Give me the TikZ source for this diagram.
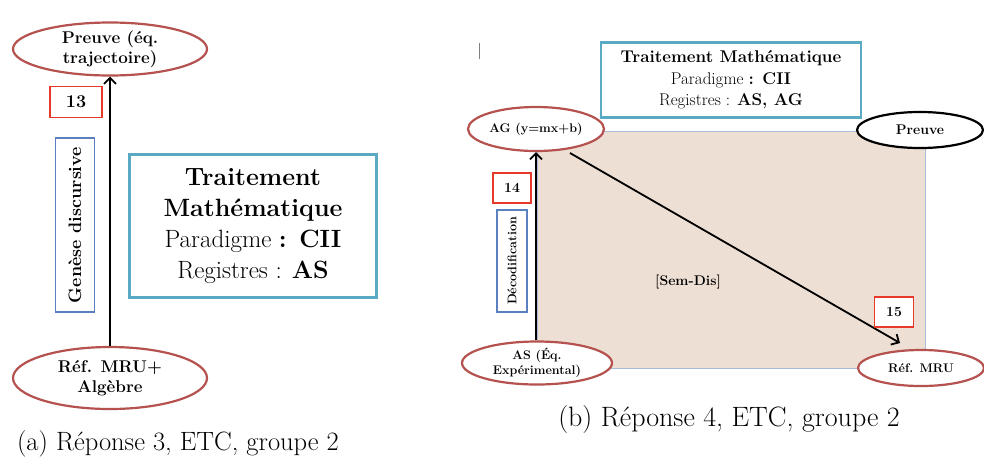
\documentclass[tikz,border=0pt]{standalone}
\usepackage{fontspec}
\usetikzlibrary{shapes.geometric,positioning,arrows.meta}
\definecolor{ellred}{HTML}{B5524F}
\definecolor{boxred}{HTML}{E8392B}
\definecolor{boxblue}{HTML}{5A80C0}
\definecolor{boxteal}{HTML}{5AAAC4}
\definecolor{zonefill}{HTML}{EEDFD4}
\definecolor{zoneedge}{HTML}{A9BCD8}
\newcommand{\fs}[2]{\fontsize{#1}{#2}\selectfont}
\tikzset{
  etat/.style={ellipse, draw=ellred, line width=2.2pt, fill=white, align=center, inner sep=0pt},
  numbox/.style={draw=boxred, line width=1.8pt, fill=white, inner sep=0pt, font=\bfseries\fs{18}{21}},
  genbox/.style={draw=boxblue, line width=1.8pt, fill=white, rotate=90, inner sep=0pt, font=\bfseries\fs{18}{21}},
  tmbox/.style={draw=boxteal, line width=2.2pt, fill=white, align=center, inner sep=0pt},
  fleche/.style={line width=1.8pt, -{Straight Barb[length=6pt,width=12pt,line width=1.8pt]}},
  legende/.style={font=\fs{26.5}{32}}
}
\begin{document}
\begin{tikzpicture}[x=1pt,y=-1pt]
            \useasboundingbox (0,0) rectangle (984,464);
            % (a) Reponse 3
            \node[etat, minimum width=194pt, minimum height=53pt, font=\bfseries\fs{17}{20}] (preuveA) at (110,49) {Preuve (éq.\\trajectoire)};
            \node[etat, minimum width=194pt, minimum height=62pt, font=\bfseries\fs{17}{20}] (refA) at (110,378) {Réf. MRU+\\Algèbre};
            \draw[fleche] (refA) -- (preuveA);
            \node[numbox, minimum width=52pt, minimum height=31pt] (n13) at (76,102) {13};
            \node[genbox, minimum width=174pt, minimum height=39pt] (genese) at (75,225) {Genèse discursive};
            \node[tmbox, minimum width=247pt, minimum height=143pt, font=\fs{25}{31}] (tmA) at (253,226)
              {\bfseries Traitement\\\bfseries Mathématique\\Paradigme \textbf{: CII}\\Registres : \textbf{AS}};
            \node[legende] (capA) at (178,444) {(a) Réponse 3, ETC, groupe 2};
            % (b) Reponse 4
            \draw[gray, line width=0.6pt] (479,43) -- (479,59);
            \node[tmbox, minimum width=260pt, minimum height=75pt, font=\fs{17}{21.5}] (tmB) at (731,80)
              {\bfseries Traitement Mathématique\\Paradigme \textbf{: CII}\\Registres : \textbf{AS, AG}};
            \draw[zoneedge, line width=0.8pt, fill=zonefill] (537,131) rectangle (925,368);
            \node[etat, minimum width=136pt, minimum height=44pt, font=\bfseries\fs{12.5}{14.5}] (ag) at (536,129) {AG (y=mx+b)};
            \node[ellipse, draw=black, line width=2.2pt, fill=white, minimum width=126pt, minimum height=36pt, inner sep=0pt, font=\bfseries\fs{14}{16}] (preuveB) at (920,130) {Preuve};
            \node[etat, minimum width=150pt, minimum height=43pt, font=\bfseries\fs{12.5}{14.5}] (as) at (537,363) {AS (Éq.\\Expérimental)};
            \node[etat, minimum width=126pt, minimum height=36pt, font=\bfseries\fs{12.5}{14.5}] (refB) at (921,368) {Réf. MRU};
            \coordinate (diagA) at (570,153);
            \coordinate (diagB) at (900,343);
            \draw[fleche] (as.north -| ag.south) -- (ag.south);
            \draw[fleche] (diagA) -- (diagB);
            \node[numbox, minimum width=38pt, minimum height=30pt, font=\bfseries\fs{14}{16}] (n14) at (512,188) {14};
            \node[genbox, minimum width=102pt, minimum height=30pt, font=\bfseries\fs{12.5}{14.5}] (decod) at (512,261) {Décodification};
            \node[numbox, minimum width=39pt, minimum height=30pt, font=\bfseries\fs{14}{16}] (n15) at (894,312) {15};
            \node[font=\bfseries\fs{14}{16}] (semdis) at (688,282) {[Sem-Dis]};
            \node[legende, font=\fs{28}{34}] (capB) at (729,420) {(b) Réponse 4, ETC, groupe 2};
        \end{tikzpicture}
\end{document}
